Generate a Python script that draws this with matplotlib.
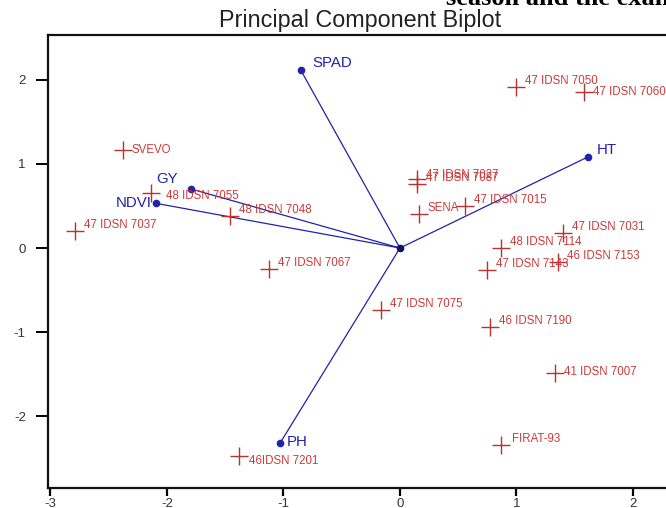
import numpy as np
import matplotlib
matplotlib.use("Agg")
import matplotlib.pyplot as plt

plt.rcParams['font.family'] = ['Liberation Sans', 'DejaVu Sans']
plt.rcParams['axes.unicode_minus'] = False

# genotype scores (PC1, PC2)
genotypes = ['SVEVO', '48 IDSN 7055', '48 IDSN 7048', '47 IDSN 7037', '47 IDSN 7067',
             '47 IDSN 7075', '46IDSN 7201', 'FIRAT-93', '47 IDSN 7050', '47 IDSN 7060',
             '47 IDSN 7027', '47 IDSN 7087', 'SENA', '47 IDSN 7015', '47 IDSN 7031',
             '48 IDSN 7114', '46 IDSN 7153', '47 IDSN 7143', '46 IDSN 7190', '41 IDSN 7007']
geno_pc1 = [-2.38, -2.14, -1.46, -2.79, -1.12,
            -0.16, -1.38, 0.87, 1.00, 1.58,
            0.15, 0.15, 0.16, 0.56, 1.40,
            0.87, 1.36, 0.75, 0.77, 1.33]
geno_pc2 = [1.16, 0.65, 0.38, 0.20, -0.25,
            -0.74, -2.47, -2.34, 1.91, 1.85,
            0.82, 0.76, 0.40, 0.50, 0.18,
            0.00, -0.17, -0.26, -0.94, -1.49]

# trait loadings
traits = ['SPAD', 'HT', 'GY', 'NDVI', 'PH']
trait_pc1 = [-0.85, 1.61, -1.79, -2.09, -1.03]
trait_pc2 = [2.11, 1.08, 0.70, 0.53, -2.32]

# label offsets in pixels (dx, dy), default is up-right of the marker
geno_offsets = {'SVEVO': (9, 0), '48 IDSN 7055': (15, -3), '47 IDSN 7060': (9, 0),
                '41 IDSN 7007': (9, 1), '46IDSN 7201': (10, -5), '47 IDSN 7027': (9, 4),
                'FIRAT-93': (11, 6)}
trait_offsets = {'SPAD': (11, 7, 'left'), 'HT': (9, 7, 'left'), 'GY': (-13, 10, 'right'),
                 'NDVI': (-5, 0, 'right'), 'PH': (7, 1, 'left')}

W, H = 666, 508
fig = plt.figure(figsize=(W / 100, H / 100), dpi=100)
ax = fig.add_axes([48 / W, 20 / H, 1 - 48 / W, (488 - 35) / H])

red = '#b83232'
red_txt = '#cc3a3a'
blue = '#2222aa'

for name, x, y in zip(traits, trait_pc1, trait_pc2):
    ax.plot([0, x], [0, y], color=blue, lw=0.9)
    ax.plot(x, y, 'o', color=blue, ms=4.5)
    dx, dy, ha = trait_offsets[name]
    ax.annotate(name, (x, y), xytext=(dx, dy), textcoords='offset pixels',
                ha=ha, va='center', color=blue, fontsize=10.8)
ax.plot(0, 0, 'o', color='#111166', ms=4.5)

ax.plot(geno_pc1, geno_pc2, '+', color=red, ms=13, mew=1.0, ls='none')
for name, x, y in zip(genotypes, geno_pc1, geno_pc2):
    dx, dy = geno_offsets.get(name, (9, 6))
    ax.annotate(name, (x, y), xytext=(dx, dy), textcoords='offset pixels',
                ha='left', va='center', color=red_txt, fontsize=8.3)

ax.set_xlim(-3.02, 2.283)
ax.set_ylim(-2.85, 2.53)
ax.set_xticks([-3, -2, -1, 0, 1, 2])
ax.set_yticks([-2, -1, 0, 1, 2])
ax.spines['right'].set_visible(False)
for s in ['left', 'bottom', 'top']:
    ax.spines[s].set_linewidth(1.6)
    ax.spines[s].set_color('#111111')
ax.tick_params(axis='y', length=9, width=1.4, pad=7, labelsize=9.5, labelcolor='#333333')
ax.tick_params(axis='x', length=6, width=1.6, pad=1, labelsize=9.5, labelcolor='#333333')

fig.text(360 / W, 1 - 21 / H, 'Principal Component Biplot', ha='center', va='center',
         fontsize=16.8, color='#222222')
fig.text(446 / W, 1 - 5 / H, 'season and the exam', ha='left', va='baseline',
         fontsize=19, fontweight='bold', family='Liberation Serif', color='black')

fig.savefig('out.png', dpi=100)
